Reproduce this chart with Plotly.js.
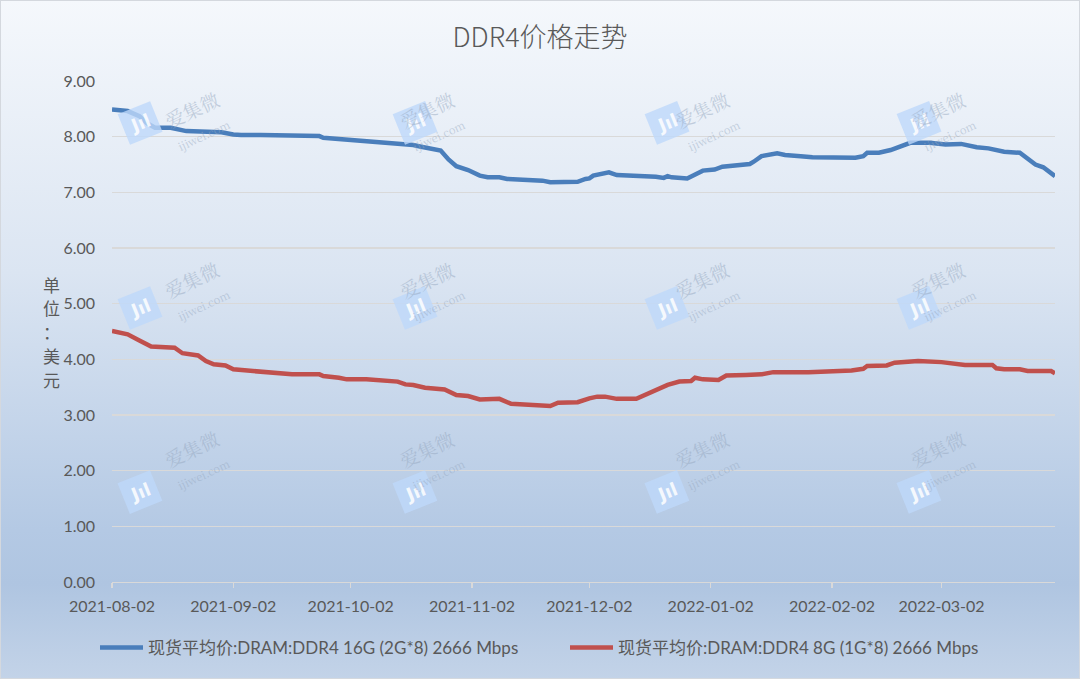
<!DOCTYPE html>
<html>
<head>
<meta charset="utf-8">
<script src="https://cdn.plot.ly/plotly-3.0.1.min.js"></script>
<style>
    body { margin: 0; }
    #wrap { position: relative; width: 1080px; height: 679px;
        background: linear-gradient(to bottom, #f5f8fc 0%, #dbe5f2 40%, #b4c9e4 78%, #afc5e1 86%, #c3d3e8 100%); }
    #graph { width: 1080px; height: 679px; }
    #frame { position: absolute; left: 0; top: 0; width: 1080px; height: 679px;
        box-sizing: border-box; border: 1px solid #d4d8de; pointer-events: none; }
</style>
</head>
<body>
<div id="wrap">
    <div id="graph"></div>
    <div id="frame"></div>
</div>
<script>
// 16G (2G*8) 2666 Mbps
var dates16 = ['2021-08-02','2021-08-06','2021-08-09','2021-08-11','2021-08-13','2021-08-17','2021-08-21','2021-08-25',
    '2021-08-30','2021-09-02','2021-09-04','2021-09-09','2021-09-14','2021-09-17','2021-09-24','2021-09-25','2021-09-29',
    '2021-10-01','2021-10-07','2021-10-13','2021-10-17','2021-10-18','2021-10-20','2021-10-22','2021-10-23','2021-10-25',
    '2021-10-27','2021-10-29','2021-11-01','2021-11-04','2021-11-06','2021-11-09','2021-11-11','2021-11-16','2021-11-20',
    '2021-11-22','2021-11-25','2021-11-29','2021-12-01','2021-12-02','2021-12-03','2021-12-07','2021-12-09','2021-12-15',
    '2021-12-19','2021-12-21','2021-12-22','2021-12-23','2021-12-27','2021-12-31','2022-01-03','2022-01-05','2022-01-07',
    '2022-01-12','2022-01-13','2022-01-15','2022-01-19','2022-01-21','2022-01-25','2022-01-28','2022-02-08','2022-02-10',
    '2022-02-11','2022-02-14','2022-02-17','2022-02-18','2022-02-22','2022-02-27','2022-03-03','2022-03-07','2022-03-11',
    '2022-03-14','2022-03-18','2022-03-22','2022-03-24','2022-03-26','2022-03-28','2022-03-31'];
var price16 = [8.49,8.46,8.37,8.24,8.16,8.16,8.10,8.09,
    8.08,8.04,8.03,8.03,8.02,8.01,8.01,7.98,7.96,
    7.93,7.91,7.88,7.86,7.85,7.82,7.79,7.76,7.75,
    7.59,7.47,7.40,7.30,7.27,7.27,7.24,7.23,7.21,
    7.18,7.18,7.19,7.24,7.25,7.30,7.36,7.31,7.30,
    7.28,7.26,7.29,7.27,7.25,7.39,7.41,7.46,7.47,
    7.51,7.55,7.65,7.70,7.67,7.65,7.63,7.62,7.65,
    7.71,7.71,7.76,7.79,7.89,7.89,7.86,7.87,7.81,
    7.79,7.73,7.71,7.61,7.50,7.45,7.29];

// 8G (1G*8) 2666 Mbps
var dates8 = ['2021-08-02','2021-08-06','2021-08-09','2021-08-11','2021-08-12','2021-08-18','2021-08-20','2021-08-24',
    '2021-08-26','2021-08-28','2021-08-31','2021-09-02','2021-09-06','2021-09-10','2021-09-17','2021-09-24','2021-09-25',
    '2021-09-29','2021-10-01','2021-10-06','2021-10-09','2021-10-14','2021-10-16','2021-10-18','2021-10-21','2021-10-23',
    '2021-10-26','2021-10-29','2021-11-01','2021-11-04','2021-11-09','2021-11-12','2021-11-15','2021-11-18','2021-11-22',
    '2021-11-24','2021-11-29','2021-12-02','2021-12-04','2021-12-06','2021-12-09','2021-12-14','2021-12-16','2021-12-18',
    '2021-12-20','2021-12-22','2021-12-25','2021-12-28','2021-12-29','2021-12-31','2022-01-04','2022-01-06','2022-01-11',
    '2022-01-15','2022-01-18','2022-01-23','2022-01-27','2022-02-07','2022-02-10','2022-02-11','2022-02-16','2022-02-18',
    '2022-02-22','2022-02-24','2022-03-02','2022-03-05','2022-03-08','2022-03-15','2022-03-16','2022-03-18','2022-03-22',
    '2022-03-24','2022-03-30','2022-03-31'];
var price8 = [4.51,4.45,4.34,4.26,4.23,4.21,4.11,4.07,
    3.97,3.91,3.89,3.82,3.80,3.76,3.73,3.73,3.70,
    3.67,3.64,3.64,3.62,3.60,3.55,3.54,3.49,3.47,
    3.46,3.36,3.34,3.28,3.29,3.20,3.19,3.17,3.16,
    3.22,3.23,3.30,3.33,3.33,3.29,3.29,3.35,3.42,
    3.48,3.54,3.60,3.61,3.67,3.64,3.63,3.71,3.72,
    3.73,3.77,3.76,3.77,3.80,3.83,3.88,3.89,3.94,
    3.96,3.97,3.95,3.92,3.90,3.90,3.84,3.82,3.82,
    3.79,3.79,3.75];

var seriesNames = ['现货平均价:DRAM:DDR4 16G (2G*8) 2666 Mbps', '现货平均价:DRAM:DDR4 8G (1G*8) 2666 Mbps'];
var tickDates = ['2021-08-02','2021-09-02','2021-10-02','2021-11-02','2021-12-02','2022-01-02','2022-02-02','2022-03-02'];
var unitChars = ['单', '位', '：', '美', '元'];

var textColor = '#595959';
var fontFamily = 'Lato, "Noto Sans CJK SC", sans-serif';

// plot area in pixels, used to place the annotations
var plotLeft = 112, plotRight = 1055.5, plotTop = 80.7, plotBottom = 582.4;
function px(x) { return (x - plotLeft) / (plotRight - plotLeft); }
function py(y) { return (plotBottom - y) / (plotBottom - plotTop); }

var annotations = [];

// ijiwei watermarks, 4 x 3 grid
[117, 392, 667, 942].forEach(function (cx) {
    [100, 308, 515].forEach(function (cy) {
        annotations.push({
            text: '<b>Jıl</b>', xref: 'paper', yref: 'paper', x: px(cx), y: py(cy),
            showarrow: false, textangle: -22, bgcolor: 'rgba(190,216,250,0.8)',
            width: 32, height: 30, borderpad: 1,
            font: { size: 18, color: 'rgba(255,255,255,0.85)', family: 'DejaVu Sans' }
        });
        annotations.push({
            text: '爱集微<br><span style="font-size:11px">ijiwei.com</span>', xref: 'paper', yref: 'paper',
            x: px(cx + 40), y: py(cy - 18),
            showarrow: false, textangle: -25,
            font: { size: 19, color: 'rgba(150,168,192,0.5)', family: '"Noto Serif CJK SC", "Noto Sans CJK SC", serif' }
        });
    });
});

// vertical unit title, one character per line
unitChars.forEach(function (ch, i) {
    annotations.push({
        text: ch, xref: 'paper', yref: 'paper',
        x: px(41), y: py(284 + i * 24), showarrow: false,
        font: { size: 17, color: textColor, family: '"Noto Sans CJK SC", sans-serif' }
    });
});

var data = [
    {
        x: dates16, y: price16, name: seriesNames[0], type: 'scatter', mode: 'lines',
        line: { color: '#4a7ebb', width: 4.5 }, legend: 'legend'
    },
    {
        x: dates8, y: price8, name: seriesNames[1], type: 'scatter', mode: 'lines',
        line: { color: '#c0504d', width: 4.5 }, legend: 'legend2'
    }
];

function legendAt(left) {
    return {
        orientation: 'h', xref: 'container', x: left / 1080, xanchor: 'left',
        yref: 'container', y: 1 - 648 / 679, yanchor: 'middle',
        bgcolor: 'rgba(0,0,0,0)', font: { size: 17, color: textColor },
        itemwidth: 43
    };
}

var layout = {
    width: 1080, height: 679,
    paper_bgcolor: 'rgba(0,0,0,0)', plot_bgcolor: 'rgba(0,0,0,0)',
    margin: { l: plotLeft, r: 1080 - plotRight, t: plotTop, b: 679 - plotBottom },
    font: { family: fontFamily, color: textColor, size: 16 },
    title: {
        text: 'DDR4价格走势', xref: 'container', x: 0.5, xanchor: 'center',
        yref: 'container', y: 1 - 38 / 679, yanchor: 'middle',
        font: { size: 27, color: textColor, family: '"Noto Sans CJK SC", sans-serif', weight: 300 }
    },
    xaxis: {
        type: 'date', range: ['2021-08-02', '2022-03-31'],
        tickvals: tickDates, ticktext: tickDates,
        showgrid: false, zeroline: false,
        showline: true, linecolor: '#d9d9d9', linewidth: 1.3,
        ticks: 'outside', ticklen: 5, tickcolor: '#d9d9d9', tickwidth: 1.3,
        ticklabelstandoff: 4,
        tickfont: { size: 16, color: textColor }
    },
    yaxis: {
        range: [0, 9], dtick: 1, tickformat: '.2f',
        showgrid: true, gridcolor: '#d9d9d9', gridwidth: 1.3,
        zeroline: false, showline: false, ticks: '',
        ticklabelstandoff: 16,
        tickfont: { size: 16, color: textColor }
    },
    showlegend: true,
    legend: legendAt(95),
    legend2: legendAt(565),
    annotations: annotations
};

Plotly.newPlot('graph', data, layout, { staticPlot: true });
</script>
</body>
</html>
